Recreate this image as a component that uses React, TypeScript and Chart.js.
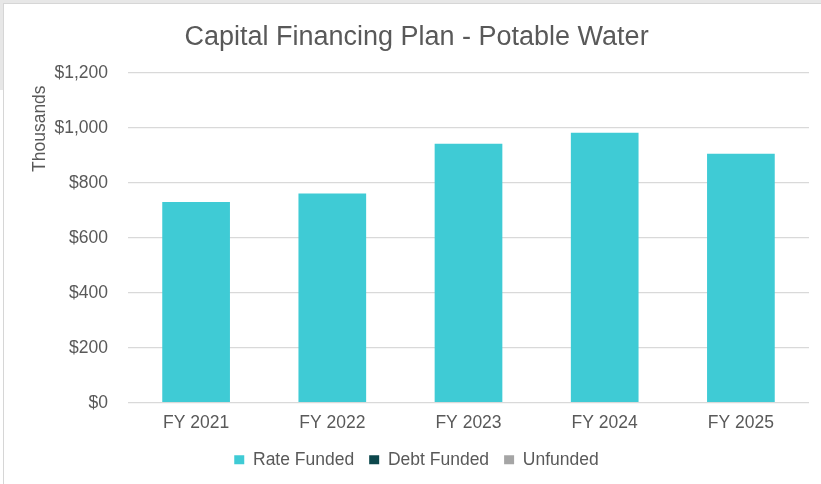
import React, { useEffect, useRef } from "react";
import { Chart, registerables } from "chart.js";

Chart.register(...registerables);

const categories = ["FY 2021", "FY 2022", "FY 2023", "FY 2024", "FY 2025"];
const rateFunded = [730, 761, 942, 982, 905];
const debtFunded = [0, 0, 0, 0, 0];
const unfunded = [0, 0, 0, 0, 0];
const yTickLabels = ["$0", "$200", "$400", "$600", "$800", "$1,000", "$1,200"];

const FONT = "'Liberation Sans', Arial, Helvetica, sans-serif";
const TEXT = "#595959";

const axisUnitPlugin = {
  id: "axisUnit",
  afterDraw(chart: any) {
    const { ctx, chartArea } = chart;
    ctx.save();
    ctx.fillStyle = TEXT;
    ctx.font = `17.5px ${FONT}`;
    ctx.textAlign = "center";
    ctx.textBaseline = "middle";
    ctx.translate(chartArea.left - 88, chartArea.top + 56);
    ctx.rotate(-Math.PI / 2);
    ctx.fillText("Thousands", 0, 0);
    ctx.restore();
  },
};

export default function App() {
  const ref = useRef<HTMLCanvasElement | null>(null);

  useEffect(() => {
    if (!ref.current) return;
    const chart = new Chart(ref.current, {
      type: "bar",
      data: {
        labels: categories,
        datasets: [
          { label: "Rate Funded", data: rateFunded, backgroundColor: "#3FCBD5", borderWidth: 0 },
          { label: "Debt Funded", data: debtFunded, backgroundColor: "#0C474C", borderWidth: 0 },
          { label: "Unfunded", data: unfunded, backgroundColor: "#A5A5A5", borderWidth: 0 },
        ],
      },
      options: {
        animation: false,
        responsive: false,
        maintainAspectRatio: false,
        devicePixelRatio: 1,
        datasets: { bar: { categoryPercentage: 1, barPercentage: 0.497 } },
        layout: { padding: { left: 24, right: 12, top: 21, bottom: 5.5 } },
        plugins: {
          title: {
            display: true,
            text: "Capital Financing Plan - Potable Water",
            color: TEXT,
            font: { family: FONT, size: 27, weight: "normal" },
            padding: { top: 0, bottom: 19.3 },
          },
          legend: {
            position: "bottom",
            labels: {
              color: TEXT,
              font: { family: FONT, size: 17.5 },
              boxWidth: 10,
              boxHeight: 9,
              padding: 15,
            },
          },
          tooltip: { enabled: false },
        },
        scales: {
          x: {
            stacked: true,
            grid: { display: false, drawTicks: false },
            border: { display: false },
            ticks: { color: TEXT, font: { family: FONT, size: 17.5 }, padding: 10 },
            afterFit: (scale: any) => {
              scale.height = 33.3;
            },
          },
          y: {
            stacked: true,
            min: 0,
            max: 1200,
            grid: { color: "#D9D9D9", lineWidth: 1.3, drawTicks: false },
            border: { display: false },
            ticks: {
              stepSize: 200,
              color: TEXT,
              font: { family: FONT, size: 17.5 },
              padding: 20,
              callback: (_v: any, i: number) => yTickLabels[i],
            },
            afterFit: (scale: any) => {
              scale.width = 104;
            },
          },
        },
      },
      plugins: [axisUnitPlugin],
    });
    return () => chart.destroy();
  }, []);

  return (
    <div style={{ position: "absolute", left: 0, top: 0, width: 821, height: 484, background: "#fff", overflow: "hidden" }}>
      <div style={{ position: "absolute", left: 0, top: 0, width: 821, height: 3, background: "#E7E7E7" }} />
      <div style={{ position: "absolute", left: 0, top: 0, width: 3, height: 90, background: "#E7E7E7" }} />
      <div style={{ position: "absolute", left: 3, top: 3, width: 818, height: 1, background: "#D6D6D6" }} />
      <div style={{ position: "absolute", left: 3, top: 3, width: 1, height: 481, background: "#D6D6D6" }} />
      <canvas ref={ref} width={821} height={484} style={{ position: "absolute", left: 0, top: 0, width: 821, height: 484 }} />
    </div>
  );
}
